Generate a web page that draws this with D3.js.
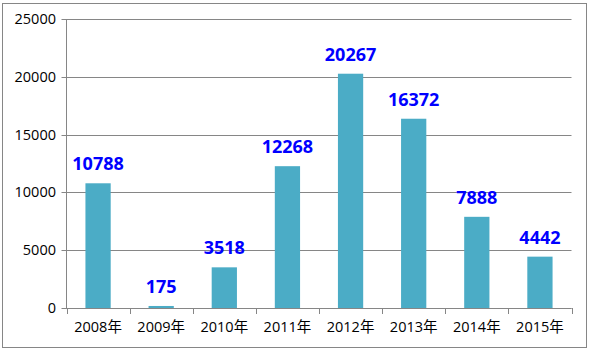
<!DOCTYPE html>
<html>
<head>
<meta charset="utf-8">
<script src="https://cdn.jsdelivr.net/npm/d3@7"></script>
<style>
  body { margin: 0; background: #fff; }
  text { font-family: "Open Sans", "Noto Sans", "Noto Sans CJK SC", sans-serif; }
</style>
</head>
<body>
<svg width="590" height="352"></svg>
<script>
var years = ["2008年", "2009年", "2010年", "2011年", "2012年", "2013年", "2014年", "2015年"];
var values = [10788, 175, 3518, 12268, 20267, 16372, 7888, 4442];
var yTicks = [0, 5000, 10000, 15000, 20000, 25000];

var svg = d3.select("svg");

// outer frame
svg.append("rect")
  .attr("x", 2.5).attr("y", 3.5)
  .attr("width", 584).attr("height", 344)
  .attr("fill", "#fff")
  .attr("stroke", "#868686");

var plotLeft = 66.5, plotRight = 571.5, plotTop = 19, plotBottom = 308;

var x = d3.scaleBand().domain(years).range([plotLeft, plotRight]).paddingInner(0.6).paddingOuter(0.3);
var y = d3.scaleLinear().domain([0, 25000]).range([plotBottom, plotTop]);

// gridlines
svg.append("g")
  .selectAll("line")
  .data(yTicks)
  .enter()
  .append("line")
  .attr("x1", plotLeft - 5).attr("x2", plotRight)
  .attr("y1", (d) => Math.round(y(d)) + 0.5)
  .attr("y2", (d) => Math.round(y(d)) + 0.5)
  .attr("stroke", "#868686");

// y labels
svg.append("g")
  .selectAll("text")
  .data(yTicks)
  .enter()
  .append("text")
  .attr("x", 56)
  .attr("y", (d) => y(d))
  .attr("dy", "0.35em")
  .attr("text-anchor", "end")
  .attr("font-size", "14.5px")
  .attr("fill", "#000")
  .text((d) => d);

// bars
svg.append("g")
  .selectAll("rect")
  .data(values)
  .enter()
  .append("rect")
  .attr("x", (d, i) => x(years[i]))
  .attr("width", x.bandwidth())
  .attr("y", (d) => y(d))
  .attr("height", (d) => plotBottom - y(d))
  .attr("fill", "#4BACC6");

// value labels
svg.append("g")
  .selectAll("text")
  .data(values)
  .enter()
  .append("text")
  .attr("x", (d, i) => x(years[i]) + x.bandwidth() / 2)
  .attr("y", (d) => y(d) - 13)
  .attr("text-anchor", "middle")
  .attr("font-size", "18px")
  .attr("font-weight", "bold")
  .attr("fill", "#0000FF")
  .text((d) => d);

// axes
svg.append("line")
  .attr("x1", plotLeft).attr("x2", plotLeft)
  .attr("y1", plotTop).attr("y2", plotBottom)
  .attr("stroke", "#868686");

var step = (plotRight - plotLeft) / years.length;
var xAxis = svg.append("g");
xAxis.append("line")
  .attr("x1", plotLeft).attr("x2", plotRight)
  .attr("y1", plotBottom + 0.5).attr("y2", plotBottom + 0.5)
  .attr("stroke", "#868686");
xAxis.selectAll(".tk")
  .data(d3.range(years.length + 1))
  .enter()
  .append("line")
  .attr("x1", (d) => Math.round(plotLeft + d * step) + 0.5)
  .attr("x2", (d) => Math.round(plotLeft + d * step) + 0.5)
  .attr("y1", plotBottom).attr("y2", plotBottom + 6)
  .attr("stroke", "#868686");
xAxis.selectAll("text")
  .data(years)
  .enter()
  .append("text")
  .attr("x", (d) => x(d) + x.bandwidth() / 2)
  .attr("y", 327)
  .attr("dy", "0.35em")
  .attr("text-anchor", "middle")
  .attr("font-size", "14.5px")
  .attr("fill", "#000")
  .text((d) => d);
</script>
</body>
</html>
